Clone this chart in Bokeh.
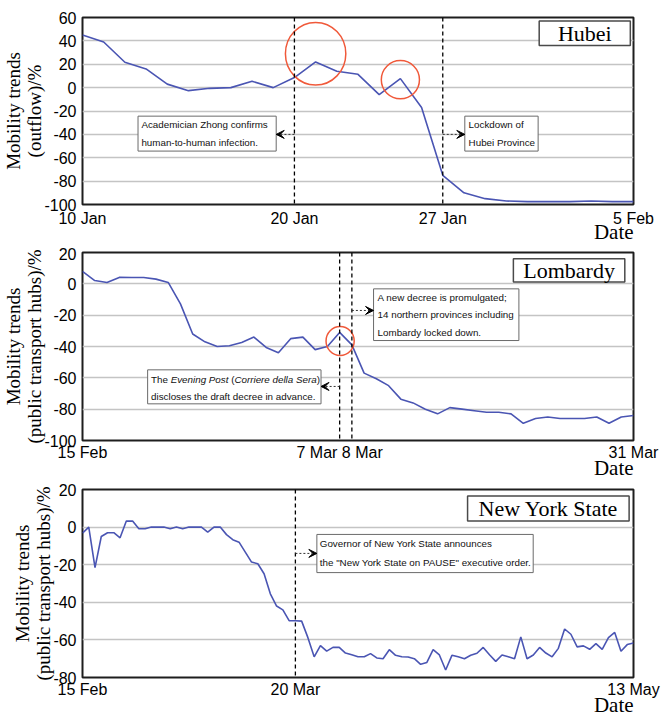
import pandas as pd
from bokeh.plotting import figure
from bokeh.layouts import column
from bokeh.models import Range1d, FixedTicker, Span, Arrow, VeeHead, ColumnDataSource, LinearAxis
from bokeh.core.properties import value
from bokeh.embed import file_html
from bokeh.resources import INLINE

# ---------------- data ----------------
hubei_start, hubei_end = "2020-01-10", "2020-02-05"
hubei_values = [45, 39, 21.7, 16, 3, -2.6, -0.6, 0, 5.4, 0, 8.6, 22, 14, 11.4, -6, 7.7,
                -17, -75, -90, -95, -97, -97.5, -97.5, -97.5, -97, -97.5, -97.5]
hubei_tick_dates = ["2020-01-10", "2020-01-20", "2020-01-27", "2020-02-05"]
hubei_tick_labels = ["10 Jan", "20 Jan", "27 Jan", "5 Feb"]
hubei_events = ["2020-01-20", "2020-01-27"]
hubei_y_ticks = [60, 40, 20, 0, -20, -40, -60, -80, -100]

lomb_start, lomb_end = "2020-02-15", "2020-03-31"
lomb_values = [7.9, 2.1, 0.9, 4.1, 4, 4, 3, 0.9, -12.8, -32, -37, -40, -39.5, -37.4, -34,
               -40.6, -44, -35, -34, -42, -40, -31, -39, -57, -60.6, -65, -73.6, -76, -80,
               -83, -79, -80, -81, -82, -82, -83, -89, -86, -85, -86, -86, -86, -85, -89,
               -85, -84]
lomb_tick_dates = ["2020-02-15", "2020-03-07", "2020-03-31"]
lomb_tick_labels = ["15 Feb", "7 Mar 8 Mar", "31 Mar"]
lomb_events = ["2020-03-07", "2020-03-08"]
lomb_y_ticks = [20, 0, -20, -40, -60, -80, -100]

ny_start, ny_end = "2020-02-15", "2020-05-13"
ny_values = [-3.2, 0, -21.6, -5, -3, -3, -5.7, 3.2, 3.2, -0.9, -0.9, 0, 0, 0, -0.9, 0, -0.9,
             0, 0, 0, -2.7, 0, 0, -4, -6.7, -8, -13.3, -18.6, -19.5, -24.8, -35.5, -42, -44,
             -49.8, -49.8, -50, -58.8, -69, -63, -66, -64, -64, -67, -67.9, -69, -69, -67.3,
             -69.6, -70, -65.2, -68.2, -69, -69.1, -70, -73, -72, -65.2, -68, -76, -68.2,
             -69, -70, -68.2, -67.1, -64, -67.9, -71.4, -68, -69, -70, -58.4, -70, -68,
             -64, -67, -69, -64.5, -54.2, -57, -63.7, -63.2, -65, -62, -65, -58.8, -56,
             -66, -62.5, -61.6]
ny_tick_dates = ["2020-02-15", "2020-03-20", "2020-05-13"]
ny_tick_labels = ["15 Feb", "20 Mar", "13 May"]
ny_events = ["2020-03-20"]
ny_y_ticks = [20, 0, -20, -40, -60, -80]

# ---------------- style ----------------
FONT_TICK = "Liberation Sans"
FONT_SERIF = "Liberation Serif"
FONT_NOTE = "Liberation Sans"
NOTE_SIZE = 9.8
BLUE = "#4a55b3"
RED = "#f0593a"
W = 662
LEFT, RIGHT = 81, 29
FRAME_W = W - LEFT - RIGHT
DATE_HALF_W = 19.8  # half width of the "Date" word in px

ARIAL = {' ': 278, '(': 333, ')': 333, 'T': 611, 'h': 556, 'e': 556, 'E': 667, 'v': 500,
         'n': 556, 'i': 222, 'g': 556, 'P': 667, 'o': 556, 's': 500, 't': 278, 'C': 722,
         'r': 333, 'l': 222, 'a': 556, 'd': 556, 'S': 667}


def text_w(s, size=NOTE_SIZE):
    return sum(ARIAL.get(c, 556) for c in s) / 1000 * size


def bare_axis(ax):
    ax.axis_line_color = None
    ax.major_tick_line_color = None
    ax.minor_tick_line_color = None
    ax.major_tick_out = 0
    ax.major_tick_in = 0
    ax.minor_tick_out = 0
    ax.major_label_text_color = "black"


def panel(height, top, bottom, x_standoff, date_standoff, start, end, values, y_ticks,
          tick_dates, tick_labels, events, ylabel):
    s = pd.Timestamp(start)
    dates = pd.date_range(start, end)
    x = [(d - s).days for d in dates]
    p = figure(width=W, height=height, output_backend="svg", toolbar_location=None, title=None,
               x_range=Range1d(0, x[-1]), y_range=Range1d(min(y_ticks), max(y_ticks)),
               min_border_left=LEFT, min_border_right=RIGHT, min_border_top=top,
               min_border_bottom=bottom, background_fill_color="white", border_fill_color="white")
    tx = [(pd.Timestamp(t) - s).days for t in tick_dates]
    p.xaxis.ticker = FixedTicker(ticks=tx)
    p.xaxis.major_label_overrides = {t: l for t, l in zip(tx, tick_labels)}
    p.yaxis.ticker = FixedTicker(ticks=y_ticks)
    p.yaxis.major_label_overrides = {t: f"{t}" for t in y_ticks}
    for ax in (p.xaxis, p.yaxis):
        bare_axis(ax)
        ax.major_label_text_font = FONT_TICK
        ax.major_label_text_font_size = "16px"
    p.xaxis.major_label_standoff = x_standoff
    p.yaxis.major_label_standoff = 6
    p.yaxis.axis_label = ylabel
    p.yaxis.axis_label_text_font = FONT_SERIF
    p.yaxis.axis_label_text_font_size = "19px"
    p.yaxis.axis_label_text_font_style = "normal"
    p.yaxis.axis_label_text_color = "black"
    p.yaxis.axis_label_text_line_height = 1.0
    p.yaxis.axis_label_standoff = -4
    p.xgrid.visible = False
    p.ygrid.grid_line_color = "#c4c4c4"
    p.ygrid.grid_line_width = 1.5
    p.outline_line_color = "#1e1e1e"
    p.outline_line_width = 2
    p.outline_line_alpha = 1

    # "Date" caption under the axis, right-aligned with the frame
    x_end = x[-1]
    pos = x_end - DATE_HALF_W / (FRAME_W / x_end)
    dax = LinearAxis(ticker=FixedTicker(ticks=[pos]), major_label_overrides={pos: "Date"})
    bare_axis(dax)
    dax.major_label_text_font = FONT_SERIF
    dax.major_label_text_font_size = "21px"
    dax.major_label_standoff = date_standoff
    p.add_layout(dax, "below")

    for e in events:
        p.add_layout(Span(location=(pd.Timestamp(e) - s).days, dimension="height",
                          line_color="black", line_width=1.3, line_dash="4 3"))
    src = ColumnDataSource(dict(x=x, y=values))
    p.line("x", "y", source=src, line_color=BLUE, line_width=1.6)
    return p


def circle(p, cx, cy, w, h):
    p.ellipse(x=[cx], y=[cy], width=[w], height=[h], fill_color=None, line_color=RED, line_width=1.5)


def box(p, l, r, b, t, lw=1.0, color="#6a6a6a"):
    p.quad(left=[l], right=[r], bottom=[b], top=[t], fill_color="white", line_color=color, line_width=lw)


def note(p, x, ys, lines):
    for y, line in zip(ys, lines):
        p.text(x=[x], y=[y], text=[line], text_font=value(FONT_NOTE), text_font_size=f"{NOTE_SIZE}px",
               text_baseline="middle", text_align="left", text_color="#111")


def rich_note(p, x, y, segments):
    off = 0
    for seg, style in segments:
        lead = seg[:len(seg) - len(seg.lstrip())]
        p.text(x=[x], y=[y], text=[seg.strip()], x_offset=off + text_w(lead), text_font=value(FONT_NOTE),
               text_font_size=f"{NOTE_SIZE}px", text_baseline="middle", text_align="left",
               text_font_style=style, text_color="#111")
        off += text_w(seg)


def arrow(p, x0, x1, y):
    p.add_layout(Arrow(end=VeeHead(size=8, fill_color="black", line_color="black", line_width=1),
                       x_start=x0, y_start=y, x_end=x1, y_end=y, line_color="#333",
                       line_width=1, line_dash="2 2"))


def name_box(p, l, r, b, t, text):
    box(p, l, r, b, t, lw=1.5, color="#4a4a4a")
    p.text(x=[(l + r) / 2], y=[(b + t) / 2], text=[text], text_font=value(FONT_SERIF),
           text_font_size="22px", text_baseline="middle", text_align="center", text_color="black")


# ---------------- Hubei ----------------
p1 = panel(247, 17, 43, 5, -10, hubei_start, hubei_end, hubei_values, hubei_y_ticks,
           hubei_tick_dates, hubei_tick_labels, hubei_events, "Mobility trends\n(outflow)/%")
circle(p1, 11.0, 29, 2.85, 53.6)
circle(p1, 15.0, 6.8, 1.8, 32.7)
box(p1, 2.62, 9.14, -54.3, -24.4)
note(p1, 2.78, [-31.5, -46.6], ["Academician Zhong confirms", "human-to-human infection."])
arrow(p1, 10, 9.14, -40)
box(p1, 18.04, 21.5, -54.3, -24.4)
note(p1, 18.22, [-31.5, -46.6], ["Lockdown of", "Hubei Province"])
arrow(p1, 17, 18.04, -40)
name_box(p1, 21.55, 25.85, 36, 57, "Hubei")

# ---------------- Lombardy ----------------
p2 = panel(236, 5, 43, 3, -8, lomb_start, lomb_end, lomb_values, lomb_y_ticks,
           lomb_tick_dates, lomb_tick_labels, lomb_events,
           "Mobility trends\n(public transport hubs)/%")
circle(p2, 21.04, -36.5, 2.3, 18.5)
box(p2, 23.77, 35.64, -36.2, -3.2)
note(p2, 24.1, [-8.5, -19.7, -30.9],
     ["A new decree is promulgated;", "14 northern provinces including", "Lombardy locked down."])
arrow(p2, 22, 23.77, -17)
box(p2, 5.32, 19.48, -76.6, -54.9)
rich_note(p2, 5.6, -61.3, [("The ", "normal"), ("Evening Post", "italic"), (" (", "normal"),
                           ("Corriere della Sera", "italic"), (")", "normal")])
note(p2, 5.6, [-71.7], ["discloses the draft decree in advance."])
arrow(p2, 21, 19.48, -65.5)
name_box(p2, 35.19, 44.29, 1.1, 16, "Lombardy")

# ---------------- New York State ----------------
p3 = panel(237, 6, 43, 3, -8, ny_start, ny_end, ny_values, ny_y_ticks,
           ny_tick_dates, ny_tick_labels, ny_events,
           "Mobility trends\n(public transport hubs)/%")
box(p3, 37.43, 71.98, -24.2, -3.9)
note(p3, 37.9, [-8.9, -18.9], ["Governor of New York State announces",
                               'the "New York State on PAUSE" executive order.'])
arrow(p3, 34, 37.43, -14)
name_box(p3, 61.5, 87.3, 3.2, 16.5, "New York State")

layout = column(p1, p2, p3, spacing=0)
open("out.html", "w").write(file_html(layout, INLINE))
